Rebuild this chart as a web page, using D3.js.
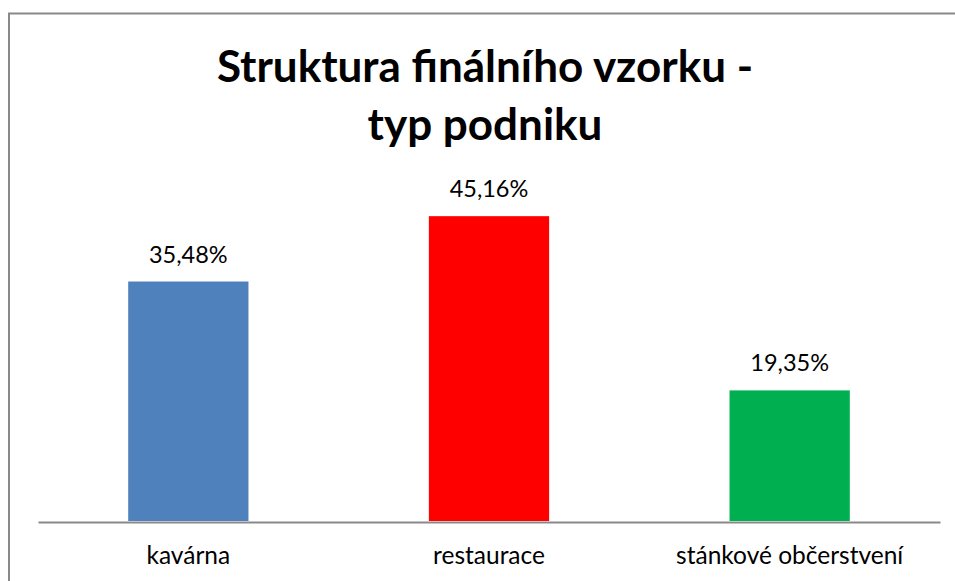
<!DOCTYPE html>
<html>
<head>
<meta charset="utf-8">
<script src="https://d3js.org/d3.v7.min.js"></script>
<style>
  body { margin: 0; background: #fff; }
  text { font-family: Lato, "Open Sans", sans-serif; fill: #000; }
</style>
</head>
<body>
<div id="chart"></div>
<script>

// data
var categories = ["kavárna", "restaurace", "stánkové občerstvení"];
var values = [35.48, 45.16, 19.35];
var valueLabels = ["35,48%", "45,16%", "19,35%"];
var colors = ["#4f81bd", "#ff0000", "#00b050"];
var titleLines = ["Struktura finálního vzorku -", "typ podniku"];

var width = 955, height = 581;

var svg = d3.select("#chart")
  .append("svg")
    .attr("width", width)
    .attr("height", height);

// chart frame
svg.append("rect")
  .attr("x", 9)
  .attr("y", 13.5)
  .attr("width", 960)
  .attr("height", 600)
  .attr("fill", "#fff")
  .attr("stroke", "#898989")
  .attr("stroke-width", 2);

// title
svg.selectAll(".title")
  .data(titleLines)
  .enter().append("text")
    .attr("class", "title")
    .attr("x", 485)
    .attr("y", function(d, i) { return 82 + i * 58; })
    .attr("text-anchor", "middle")
    .style("font-weight", "bold")
    .style("font-size", "44px")
    .text(function(d) { return d; });

// scales
var x = d3.scaleBand()
  .domain(categories)
  .range([38, 940])
  .paddingInner(0.6)
  .paddingOuter(0.3);

var y = d3.scaleLinear()
  .domain([0, 50])
  .range([521, 183.5]);

// bars
svg.selectAll(".bar")
  .data(values)
  .enter().append("rect")
    .attr("class", "bar")
    .attr("x", function(d, i) { return x(categories[i]); })
    .attr("y", function(d) { return y(d); })
    .attr("width", x.bandwidth())
    .attr("height", function(d) { return y(0) - y(d); })
    .attr("fill", function(d, i) { return colors[i]; });

// value labels
svg.selectAll(".val")
  .data(values)
  .enter().append("text")
    .attr("class", "val")
    .attr("x", function(d, i) { return x(categories[i]) + x.bandwidth() / 2; })
    .attr("y", function(d) { return y(d) - 19; })
    .attr("text-anchor", "middle")
    .style("font-size", "23.5px")
    .text(function(d, i) { return valueLabels[i]; });

// x axis
var xAxis = svg.append("g")
  .attr("transform", "translate(0,522)")
  .call(d3.axisBottom(x).tickSize(0).tickPadding(25));

xAxis.select(".domain")
  .attr("stroke", "#898989")
  .attr("stroke-width", 2);

xAxis.selectAll("text")
  .style("font-size", "24.5px")
  .style("font-family", "Lato, \"Open Sans\", sans-serif")
  .attr("fill", "#000");

</script>
</body>
</html>
